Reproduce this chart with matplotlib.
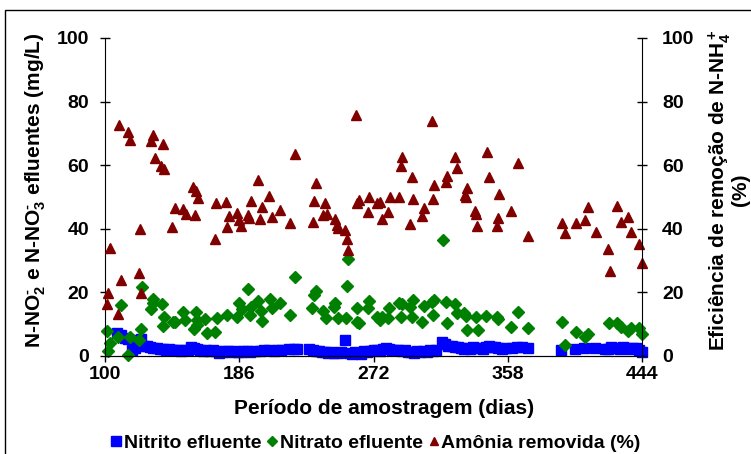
import matplotlib.pyplot as plt
from matplotlib.lines import Line2D
from matplotlib.patches import Rectangle

plt.rcParams['font.family'] = ['Liberation Sans', 'DejaVu Sans']
plt.rcParams['font.weight'] = 'bold'
plt.rcParams['mathtext.fontset'] = 'custom'
plt.rcParams['mathtext.rm'] = 'Liberation Sans:bold'
plt.rcParams['mathtext.it'] = 'Liberation Sans:bold'
plt.rcParams['mathtext.bf'] = 'Liberation Sans:bold'
plt.rcParams['mathtext.default'] = 'rm'

# nitrito efluente (mg/L)
dias_no2 = [108, 110, 113, 115, 117, 119, 121, 123, 125, 127, 129, 131, 133, 135, 137,
            139, 141, 143, 145, 147, 149, 151, 153, 155, 157, 159, 161, 163, 165, 167,
            169, 171, 173, 175, 177, 179, 181, 183, 185, 187, 189, 191, 193, 196, 199,
            202, 205, 208, 211, 213, 218, 221, 223, 231, 233, 235, 237, 239, 241, 243,
            245, 247, 249, 251, 254, 256, 258, 260, 262, 264, 266, 268, 270, 272, 274,
            276, 278, 280, 282, 284, 286, 288, 290, 292, 294, 296, 298, 300, 302, 304,
            306, 308, 310, 312, 316, 318, 320, 322, 324, 326, 328, 330, 332, 334, 336,
            338, 340, 342, 344, 346, 348, 350, 352, 354, 357, 361, 364, 367, 371, 392,
            401, 407, 414, 420, 422, 424, 426, 428, 430, 432, 434, 436, 438, 440, 442, 444]
no2 = [7.3, 6.5, 5.6, 5.2, 1.9, 2.5, 5.0, 5.4, 3.2, 3.0, 2.8, 2.6, 2.5, 2.3, 2.2,
       2.0, 2.1, 1.9, 1.8, 2.0, 1.7, 2.0, 1.8, 2.8, 2.4, 2.1, 1.8, 1.6, 1.9, 1.5,
       1.8, 1.6, 0.8, 1.4, 1.7, 1.5, 1.3, 1.6, 1.4, 1.2, 1.6, 1.5, 1.3, 1.7, 1.5,
       1.8, 1.9, 1.6, 2.0, 1.9, 2.2, 2.3, 2.1, 2.1, 1.9, 1.7, 1.5, 1.3, 1.2, 1.0,
       1.4, 1.1, 0.8, 1.2, 4.9, 1.0, 0.6, 1.3, 1.0, 0.7, 1.5, 1.3, 1.6, 1.8, 1.9,
       1.7, 2.1, 2.5, 2.2, 1.9, 2.0, 1.8, 1.6, 1.9, 1.4, 1.2, 1.0, 1.5, 1.3, 1.7,
       1.4, 2.0, 1.6, 1.9, 4.3, 3.8, 3.3, 3.0, 2.9, 2.7, 2.5, 2.3, 2.6, 2.2, 2.8,
       2.4, 2.6, 2.3, 2.8, 3.0, 2.7, 2.9, 2.4, 2.1, 2.4, 2.5, 2.8, 2.7, 2.4, 1.9,
       2.2, 2.4, 2.6, 2.3, 2.2, 2.7, 2.4, 2.6, 2.3, 2.8, 2.5, 2.1, 2.6, 2.4, 1.8, 1.4]

# nitrato efluente (mg/L)
dias_no3 = [101.1, 102.1, 103.2, 108.5, 110.3, 114.9, 116.0, 122.0, 122.8, 123.9, 129.5,
            130.5, 131.0, 136.3, 137.0, 137.8, 143.4, 144.8, 149.8, 151.2, 157.0, 158.3,
            158.7, 159.1, 164.0, 165.2, 170.5, 171.6, 178.0, 184.4, 186.0, 187.6, 191.4,
            192.9, 193.3, 198.2, 199.7, 200.4, 205.7, 206.8, 212.1, 218.5, 221.7, 232.8,
            234.1, 235.0, 239.9, 241.4, 246.7, 247.3, 249.0, 254.2, 254.8, 255.9, 261.2,
            261.6, 262.9, 268.7, 269.3, 274.5, 276.2, 277.2, 281.0, 282.1, 288.5, 289.4,
            290.0, 295.4, 296.4, 297.5, 303.3, 304.4, 309.3, 310.3, 310.9, 316.7, 318.2,
            319.2, 324.2, 325.3, 330.2, 331.3, 332.1, 337.7, 338.8, 344.1, 351.3, 352.0,
            359.9, 364.8, 370.8, 392.6, 394.8, 401.5, 407.5, 409.2, 423.0, 428.2, 430.3,
            435.2, 437.0, 442.1, 444.3]
no3 = [8.0, 1.7, 4.2, 6.1, 16.0, 0.3, 6.1, 5.0, 8.6, 21.6, 14.7,
       16.6, 17.8, 16.4, 9.5, 12.4, 10.8, 10.6, 13.9, 11.3, 8.4, 13.9,
       9.7, 11.3, 11.6, 7.1, 7.4, 11.8, 12.9, 12.4, 16.8, 14.7, 21.1,
       12.9, 15.5, 17.3, 14.2, 11.1, 17.8, 15.2, 16.6, 12.9, 24.7, 15.2,
       19.2, 20.5, 14.2, 12.0, 15.3, 16.6, 11.8, 11.8, 22.0, 30.4, 10.8,
       15.0, 10.5, 15.0, 17.3, 12.4, 11.3, 12.2, 11.8, 15.0, 16.8, 12.2,
       16.3, 15.3, 12.4, 17.6, 10.8, 15.7, 17.1, 12.9, 17.6, 36.5, 16.9,
       10.3, 16.4, 13.4, 13.6, 12.6, 8.2, 12.2, 8.2, 12.6, 12.2, 11.5,
       9.2, 13.9, 8.7, 10.6, 3.5, 7.5, 6.1, 6.8, 10.3, 10.5, 9.0,
       8.0, 8.9, 8.7, 6.8]

# amonia removida (%)
dias_nh4 = [101.1, 102.1, 103.2, 108.1, 109.2, 110.0, 114.9, 116.0, 122.0, 122.4, 122.9,
            129.3, 131.0, 132.0, 135.7, 137.0, 137.8, 142.7, 144.8, 150.2, 151.9, 156.6,
            157.7, 158.3, 159.4, 170.5, 171.1, 177.3, 178.4, 179.7, 184.4, 186.0, 186.9,
            191.8, 192.4, 193.3, 198.2, 199.3, 200.4, 205.3, 206.8, 212.1, 218.5, 221.7,
            233.0, 233.9, 235.0, 239.9, 240.9, 242.0, 247.3, 248.4, 249.5, 253.7, 254.8,
            255.9, 260.8, 261.6, 262.7, 268.7, 269.3, 274.5, 276.2, 277.7, 281.5, 282.6,
            288.5, 289.4, 290.5, 295.4, 296.4, 297.5, 303.3, 304.4, 309.3, 310.3, 310.9,
            318.2, 319.2, 324.2, 325.3, 330.6, 331.3, 332.1, 337.0, 337.7, 338.5, 344.9,
            346.0, 350.9, 352.0, 352.6, 359.9, 364.8, 370.8, 392.6, 394.8, 401.5, 407.5,
            409.2, 414.3, 422.4, 423.5, 428.2, 430.3, 435.2, 437.0, 442.1, 444.3]
nh4 = [16.4, 19.9, 33.9, 13.2, 72.6, 23.9, 70.3, 67.9, 26.0, 39.8, 19.7,
       67.7, 69.5, 62.2, 59.7, 66.7, 58.7, 40.7, 46.4, 46.1, 44.7, 53.0,
       44.3, 52.0, 49.6, 36.7, 48.2, 48.5, 40.7, 44.0, 44.9, 42.8, 40.9,
       44.3, 43.3, 48.7, 55.3, 43.1, 47.0, 50.3, 43.8, 45.9, 41.8, 63.5,
       42.2, 48.7, 54.3, 44.3, 48.2, 44.7, 43.0, 41.2, 40.2, 39.6, 36.7,
       33.3, 75.8, 48.0, 49.1, 45.2, 50.1, 48.0, 48.5, 43.0, 45.4, 50.1,
       50.1, 59.8, 62.5, 41.4, 56.2, 49.3, 44.1, 46.4, 74.0, 49.4, 53.8,
       54.8, 56.7, 62.7, 59.0, 50.6, 49.9, 52.7, 45.6, 44.7, 40.9, 64.0,
       56.4, 40.9, 43.3, 50.8, 45.6, 60.6, 37.7, 41.9, 38.8, 41.9, 42.8,
       46.8, 38.9, 33.6, 26.8, 47.2, 42.0, 43.6, 38.9, 35.1, 29.1]

xticks = [100, 186, 272, 358, 444]
yticks = [0, 20, 40, 60, 80, 100]

azul = '#0000ff'
verde = '#008000'
vinho = '#800000'

fig = plt.figure(figsize=(7.51, 4.54), dpi=100)
ax = fig.add_axes([105 / 751, 1 - 356 / 454, 537 / 751, 318 / 454])
ax2 = ax.twinx()

ax.plot(dias_no2, no2, ls='none', marker='s', ms=7, color=azul, mec=azul, clip_on=False)
ax.plot(dias_no3, no3, ls='none', marker='D', ms=6.3, color=verde, mec=verde, clip_on=False)
ax2.plot(dias_nh4, nh4, ls='none', marker='^', ms=7.5, color=vinho, mec=vinho, clip_on=False)

for a in (ax, ax2):
    a.set_ylim(0, 100)
    a.set_yticks(yticks)
    a.set_xlim(100, 444)
    a.spines['top'].set_visible(False)
ax.set_xticks(xticks)
ax.spines['right'].set_visible(False)
ax2.spines['left'].set_visible(False)

ax.tick_params(axis='y', direction='inout', length=7, width=1, pad=8, labelsize=14)
ax.tick_params(axis='x', direction='out', length=4, width=1, pad=3, labelsize=14)
ax2.tick_params(axis='y', direction='inout', length=7, width=1, pad=11, labelsize=14)

ax.set_xlabel('Período de amostragem (dias)', fontsize=15, fontweight='bold', labelpad=12)
ax.xaxis.label.set_x(0.5205)

fig.text(36 / 751, 1 - 190 / 454, 'N-NO$_2^{‐}$ e N-NO$_3^{‐}$ efluentes (mg/L)',
         rotation=90, ha='center', va='center', fontsize=15, fontweight='bold')
fig.text(728 / 751, 1 - 190 / 454, 'Eficiência de remoção de N-NH$_4^+$\n(%)',
         rotation=90, ha='center', va='center', multialignment='center',
         fontsize=15, fontweight='bold', linespacing=0.85)

handles = [
    Line2D([], [], ls='none', marker='s', ms=7, color=azul),
    Line2D([], [], ls='none', marker='D', ms=5, color=verde),
    Line2D([], [], ls='none', marker='^', ms=6, color=vinho),
]
labels = ['Nitrito efluente', 'Nitrato efluente', 'Amônia removida (%)']
fig.legend(handles, labels, loc='center', bbox_to_anchor=(376 / 751, 1 - 443 / 454),
           ncol=3, frameon=False, handlelength=0.5, handletextpad=0.15,
           columnspacing=0.3, prop={'size': 14, 'weight': 'bold'})

# moldura da figura
fig.patches.append(Rectangle((5 / 751, -0.1), 1.2, 1 - 10 / 454 + 0.1, fill=False,
                             lw=1, ec='black', transform=fig.transFigure, figure=fig))

fig.savefig('out.png', dpi=100)
